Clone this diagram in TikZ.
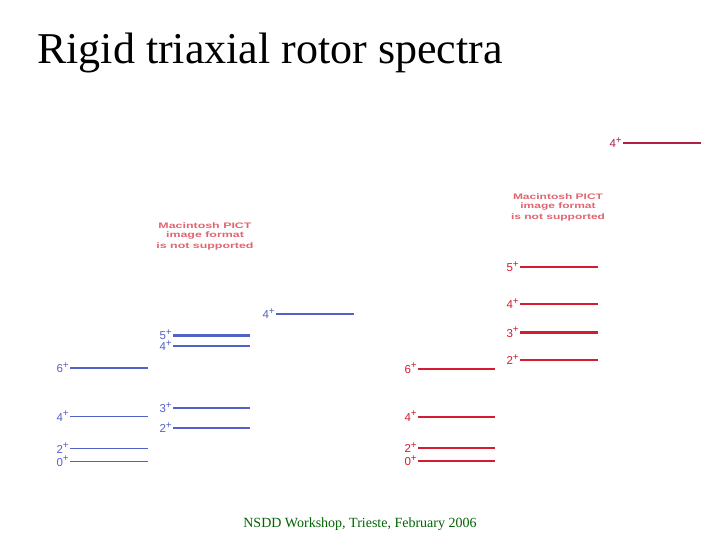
\documentclass[tikz,border=0pt]{standalone}
\usepackage{fontspec}
\setmainfont{Liberation Serif}
\newfontfamily\lblfont{Liberation Sans}
\definecolor{lvblue}{RGB}{84,98,200}
\definecolor{lvred}{RGB}{212,28,48}
\definecolor{lvdark}{RGB}{176,32,64}
\definecolor{pict}{RGB}{226,100,112}
\definecolor{foot}{RGB}{0,100,0}
\tikzset{
  lev/.style={line width=1.8pt},
  levthick/.style={line width=2.8pt},
  lbl/.style={anchor=base east, inner sep=0pt, font=\lblfont\fontsize{11.5}{12}\selectfont},
  pictnote/.style={align=center, inner sep=0pt, font=\lblfont\bfseries\fontsize{8}{8}\selectfont, text=pict}
}
\newcommand{\mylev}[7]{%
  \draw[#6,draw=#5] (#1,#3) coordinate (#7a) -- (#2,#3) coordinate (#7b);
  \node[lbl,text=#5] (#7l) at (#1-1,#3+4.5) {#4\raisebox{4.5pt}{\fontsize{10}{10}\selectfont+}};}
\begin{document}
\begin{tikzpicture}[x=1pt,y=-1pt]
\path[use as bounding box,fill=white] (0,0) rectangle (720,540);
\node[anchor=base west,inner sep=0pt,font=\fontsize{44}{48}\selectfont] (title) at (37,64) {Rigid triaxial rotor spectra};
\node[anchor=base,inner sep=0pt,font=\fontsize{14}{16}\selectfont,text=foot] (footer) at (360,527) {NSDD Workshop, Trieste, February 2006};
% blue ground band
\mylev{70}{148}{461.5}{0}{lvblue}{lev}{ga}
\mylev{70}{148}{448.5}{2}{lvblue}{lev}{gb}
\mylev{70}{148}{416.5}{4}{lvblue}{lev}{gc}
\mylev{70}{148}{368.3}{6}{lvblue}{lev}{gd}
% blue gamma band
\mylev{173}{250}{428.3}{2}{lvblue}{lev}{ha}
\mylev{173}{250}{408.3}{3}{lvblue}{lev}{hb}
\mylev{173}{250}{346.3}{4}{lvblue}{lev}{hc}
\mylev{173}{250}{335.3}{5}{lvblue}{levthick}{hd}
\mylev{276}{354}{314.3}{4}{lvblue}{lev}{ia}
\node[pictnote] (p1) at (205,236.5) {\scalebox{1.55}[1]{\shortstack{Macintosh PICT\\image format\\is not supported}}};
% red ground band
\mylev{418}{495}{461}{0}{lvred}{lev}{ra}
\mylev{418}{495}{448.3}{2}{lvred}{lev}{rb}
\mylev{418}{495}{416.7}{4}{lvred}{lev}{rc}
\mylev{418}{495}{368.7}{6}{lvred}{lev}{rd}
% red gamma band
\mylev{520}{598}{360}{2}{lvred}{lev}{sa}
\mylev{520}{598}{332.7}{3}{lvred}{levthick}{sb}
\mylev{520}{598}{304}{4}{lvred}{lev}{sc}
\mylev{520}{598}{267.3}{5}{lvred}{lev}{sd}
\node[pictnote] (p2) at (558,207.5) {\scalebox{1.5}[1]{\shortstack{Macintosh PICT\\image format\\is not supported}}};
\mylev{623}{701}{143.3}{4}{lvdark}{lev}{ta}
\end{tikzpicture}
\end{document}
